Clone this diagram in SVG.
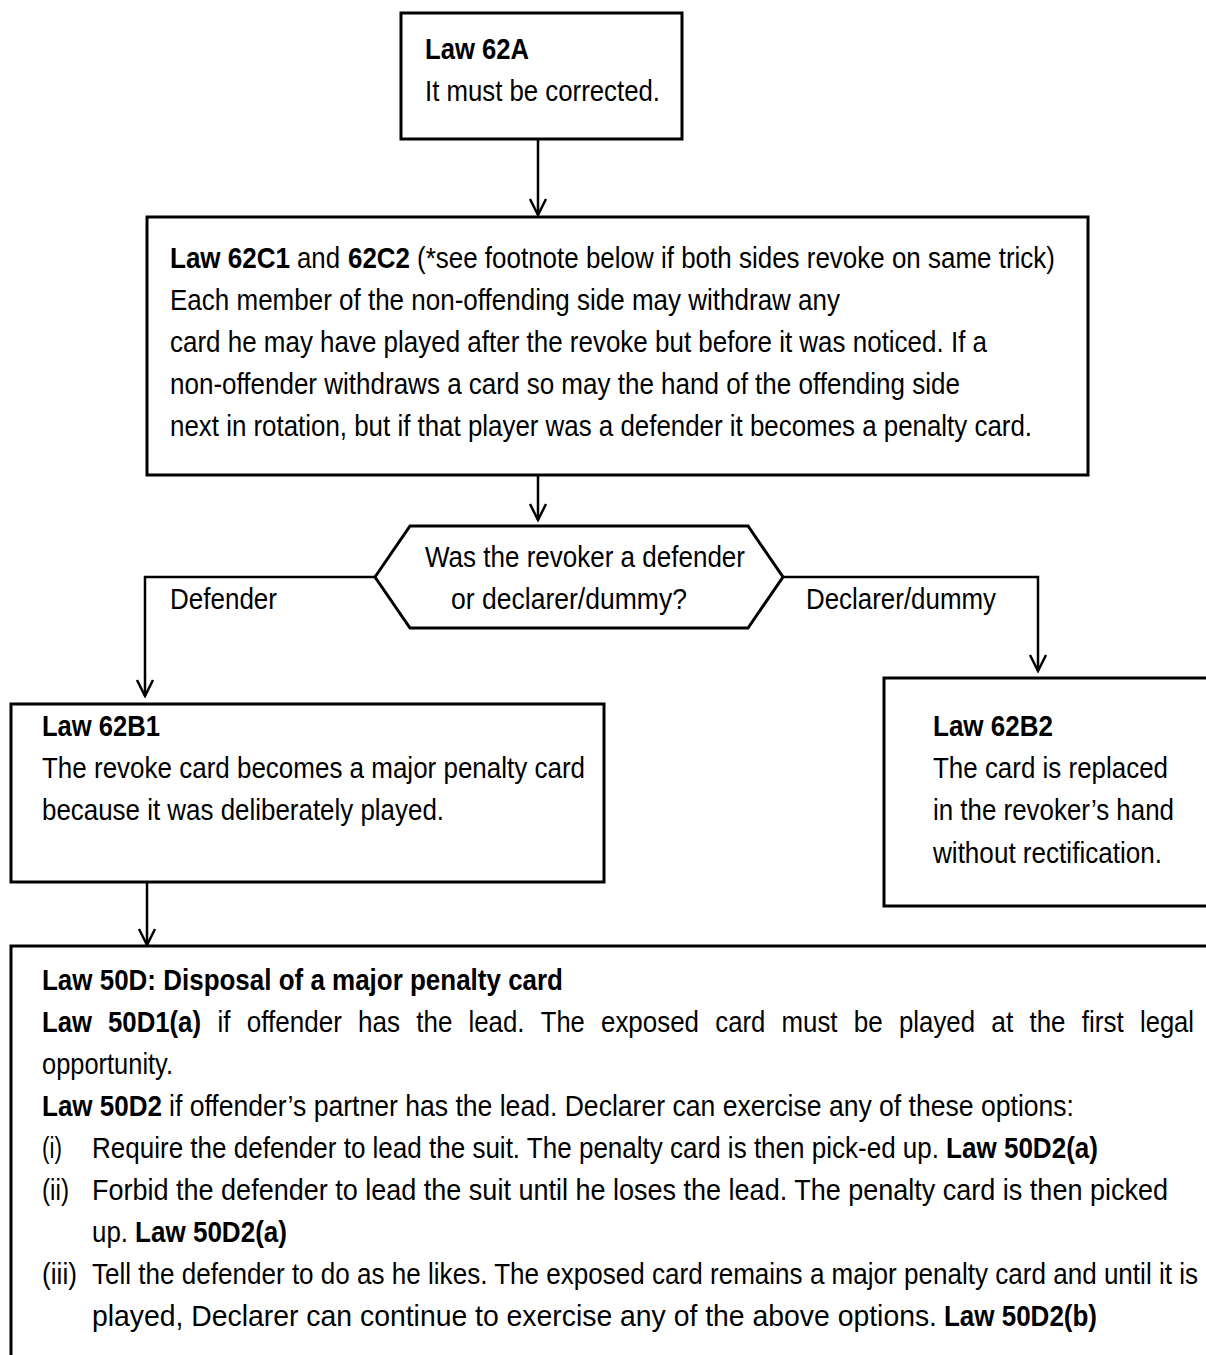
<svg xmlns="http://www.w3.org/2000/svg" width="1206" height="1355" viewBox="0 0 1206 1355">
<style>
.box{fill:#fff;stroke:#000;stroke-width:3}
.t{font-family:"Liberation Sans",Arial,sans-serif;font-size:30px;fill:#000}
.b{font-weight:bold}
.c{fill:none;stroke:#000;stroke-width:2.5}
</style>
<defs>
<marker id="ah" viewBox="0 0 20 20" refX="18" refY="10" markerWidth="20" markerHeight="20" markerUnits="userSpaceOnUse" orient="auto">
<path d="M2,2 L18,10 L2,18" fill="none" stroke="#000" stroke-width="2.5"/>
</marker>
</defs>
<rect width="1206" height="1355" fill="#fff"/>
<g id="connectors">
<path class="c" d="M538,139 V215" marker-end="url(#ah)"/>
<path class="c" d="M538,475 V520" marker-end="url(#ah)"/>
<path class="c" d="M375,577 H145 V696" marker-end="url(#ah)"/>
<path class="c" d="M783,577 H1038 V671" marker-end="url(#ah)"/>
<path class="c" d="M147,882 V945" marker-end="url(#ah)"/>
<text class="t" x="170" y="609" textLength="107" lengthAdjust="spacingAndGlyphs">Defender</text>
<text class="t" x="806" y="609" textLength="190" lengthAdjust="spacingAndGlyphs">Declarer/dummy</text>
</g>
<g id="n62A">
<rect class="box" x="401" y="13" width="281" height="126"/>
<text class="t b" x="425" y="59" textLength="104" lengthAdjust="spacingAndGlyphs">Law 62A</text>
<text class="t" x="425" y="101" textLength="235" lengthAdjust="spacingAndGlyphs">It must be corrected.</text>
</g>
<g id="n62C">
<rect class="box" x="147" y="217" width="941" height="258"/>
<text class="t b" x="170" y="268" textLength="120" lengthAdjust="spacingAndGlyphs">Law 62C1</text>
<text class="t" x="297" y="268" textLength="43" lengthAdjust="spacingAndGlyphs">and</text>
<text class="t b" x="348" y="268" textLength="62" lengthAdjust="spacingAndGlyphs">62C2</text>
<text class="t" x="417" y="268" textLength="638" lengthAdjust="spacingAndGlyphs">(*see footnote below if both sides revoke on same trick)</text>
<text class="t" x="170" y="310" textLength="670" lengthAdjust="spacingAndGlyphs">Each member of the non-offending side may withdraw any</text>
<text class="t" x="170" y="352" textLength="817" lengthAdjust="spacingAndGlyphs">card he may have played after the revoke but before it was noticed. If a</text>
<text class="t" x="170" y="394" textLength="790" lengthAdjust="spacingAndGlyphs">non-offender withdraws a card so may the hand of the offending side</text>
<text class="t" x="170" y="436" textLength="862" lengthAdjust="spacingAndGlyphs">next in rotation, but if that player was a defender it becomes a penalty card.</text>
</g>
<g id="decision">
<polygon class="box" points="375,577 410,526 748,526 783,577 748,628 410,628"/>
<text class="t" x="425" y="567" textLength="320" lengthAdjust="spacingAndGlyphs">Was the revoker a defender</text>
<text class="t" x="451" y="609" textLength="236" lengthAdjust="spacingAndGlyphs">or declarer/dummy?</text>
</g>
<g id="n62B1">
<rect class="box" x="11" y="704" width="593" height="178"/>
<text class="t b" x="42" y="736" textLength="118" lengthAdjust="spacingAndGlyphs">Law 62B1</text>
<text class="t" x="42" y="778" textLength="543" lengthAdjust="spacingAndGlyphs">The revoke card becomes a major penalty card</text>
<text class="t" x="42" y="820" textLength="402" lengthAdjust="spacingAndGlyphs">because it was deliberately played.</text>
</g>
<g id="n62B2">
<rect class="box" x="884" y="678" width="330" height="228"/>
<text class="t b" x="933" y="736" textLength="120" lengthAdjust="spacingAndGlyphs">Law 62B2</text>
<text class="t" x="933" y="778" textLength="235" lengthAdjust="spacingAndGlyphs">The card is replaced</text>
<text class="t" x="933" y="820" textLength="241" lengthAdjust="spacingAndGlyphs">in the revoker’s hand</text>
<text class="t" x="933" y="863" textLength="229" lengthAdjust="spacingAndGlyphs">without rectification.</text>
</g>
<g id="n50D">
<rect class="box" x="11" y="946" width="1205" height="420"/>
<text class="t b" x="42" y="990" textLength="521" lengthAdjust="spacingAndGlyphs">Law 50D: Disposal of a major penalty card</text>
<g>
<text class="t b" x="42" y="1032" textLength="50" lengthAdjust="spacingAndGlyphs">Law</text>
<text class="t b" x="108" y="1032" textLength="93" lengthAdjust="spacingAndGlyphs">50D1(a)</text>
<text class="t" x="217.5" y="1032" textLength="13" lengthAdjust="spacingAndGlyphs">if</text>
<text class="t" x="246.8" y="1032" textLength="95" lengthAdjust="spacingAndGlyphs">offender</text>
<text class="t" x="358" y="1032" textLength="42" lengthAdjust="spacingAndGlyphs">has</text>
<text class="t" x="416.3" y="1032" textLength="36" lengthAdjust="spacingAndGlyphs">the</text>
<text class="t" x="468.5" y="1032" textLength="56" lengthAdjust="spacingAndGlyphs">lead.</text>
<text class="t" x="540.8" y="1032" textLength="44" lengthAdjust="spacingAndGlyphs">The</text>
<text class="t" x="601" y="1032" textLength="98" lengthAdjust="spacingAndGlyphs">exposed</text>
<text class="t" x="715.3" y="1032" textLength="50" lengthAdjust="spacingAndGlyphs">card</text>
<text class="t" x="781.5" y="1032" textLength="56" lengthAdjust="spacingAndGlyphs">must</text>
<text class="t" x="853.8" y="1032" textLength="29" lengthAdjust="spacingAndGlyphs">be</text>
<text class="t" x="899" y="1032" textLength="76" lengthAdjust="spacingAndGlyphs">played</text>
<text class="t" x="991.3" y="1032" textLength="22" lengthAdjust="spacingAndGlyphs">at</text>
<text class="t" x="1029.5" y="1032" textLength="36" lengthAdjust="spacingAndGlyphs">the</text>
<text class="t" x="1081.8" y="1032" textLength="42" lengthAdjust="spacingAndGlyphs">first</text>
<text class="t" x="1140" y="1032" textLength="54" lengthAdjust="spacingAndGlyphs">legal</text>
</g>
<text class="t" x="42" y="1074" textLength="131" lengthAdjust="spacingAndGlyphs">opportunity.</text>
<text class="t b" x="42" y="1116" textLength="120" lengthAdjust="spacingAndGlyphs">Law 50D2</text>
<text class="t" x="169" y="1116" textLength="905" lengthAdjust="spacingAndGlyphs">if offender’s partner has the lead.  Declarer can exercise any of these options:</text>
<text class="t" x="42" y="1158" textLength="20" lengthAdjust="spacingAndGlyphs">(i)</text>
<text class="t" x="92" y="1158" textLength="847" lengthAdjust="spacingAndGlyphs">Require the defender to lead the suit. The penalty card is then pick-ed up.</text>
<text class="t b" x="946" y="1158" textLength="152" lengthAdjust="spacingAndGlyphs">Law 50D2(a)</text>
<text class="t" x="42" y="1200" textLength="27" lengthAdjust="spacingAndGlyphs">(ii)</text>
<text class="t" x="92" y="1200" textLength="1076" lengthAdjust="spacingAndGlyphs">Forbid the defender to lead the suit until he loses the lead. The penalty card is then picked</text>
<text class="t" x="92" y="1242" textLength="36" lengthAdjust="spacingAndGlyphs">up.</text>
<text class="t b" x="135" y="1242" textLength="152" lengthAdjust="spacingAndGlyphs">Law 50D2(a)</text>
<text class="t" x="42" y="1284" textLength="35" lengthAdjust="spacingAndGlyphs">(iii)</text>
<text class="t" x="92" y="1284" textLength="1106" lengthAdjust="spacingAndGlyphs">Tell the defender to do as he likes. The exposed card remains a major penalty card and until it is</text>
<text class="t" x="92" y="1326" textLength="845" lengthAdjust="spacingAndGlyphs">played, Declarer can continue to exercise any of the above options.</text>
<text class="t b" x="944" y="1326" textLength="153" lengthAdjust="spacingAndGlyphs">Law 50D2(b)</text>
</g>
</svg>
